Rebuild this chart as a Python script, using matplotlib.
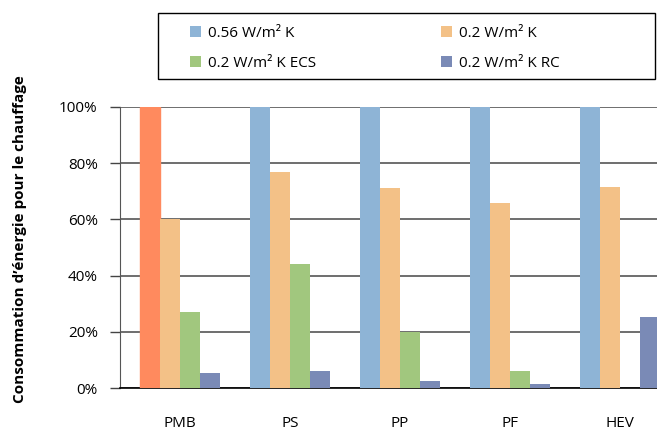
import numpy as np
import matplotlib.pyplot as plt
from matplotlib.patches import Patch, Rectangle

plt.rcParams['font.family'] = ['Open Sans', 'DejaVu Sans']

# données (en %)
categories = ['PMB', 'PS', 'PP', 'PF', 'HEV']
u056 = [100, 100, 100, 100, 100]
u02 = [60, 76.8, 71, 65.7, 71.4]
u02_ecs = [27.2, 44.3, 20, 6, 0]
u02_rc = [5.4, 6, 2.5, 1.5, 25.4]
labels = ['0.56 W/m² K', '0.2 W/m² K', '0.2 W/m² K ECS', '0.2 W/m² K RC']

c_blue = '#8EB4D6'
c_orange = '#F3C187'
c_green = '#A1C77E'
c_purple = '#7A8AB6'
c_ref = '#FF8A5E'

fig = plt.figure(figsize=(6.57, 4.30), dpi=100)
ax = fig.add_axes([120/657, 1-388/430, 1-120/657, (388-107)/430])

x = np.arange(len(categories))
w = 20/110
series = [u056, u02, u02_ecs, u02_rc]
colors = [c_blue, c_orange, c_green, c_purple]
for i, (vals, col) in enumerate(zip(series, colors)):
    bars = ax.bar(x + (i - 1.5)*w, vals, width=w, color=col, zorder=3)
    if i == 0:
        bars[0].set_color(c_ref)

ax.set_ylim(0, 100)
ax.set_xlim(-60/110, (657-180)/110)
ax.set_yticks(range(0, 101, 20))
ax.set_yticklabels(['%d%%' % v for v in range(0, 101, 20)], fontsize=11)
ax.set_xticks(x)
ax.set_xticklabels(categories, fontsize=11)
ax.tick_params(axis='x', length=0, pad=20)
ax.tick_params(axis='y', length=7, width=1, color='#444444', pad=9)
ax.yaxis.grid(True, color='#555555', linewidth=1.2, zorder=0)
for s in ['top', 'right']:
    ax.spines[s].set_visible(False)
ax.spines['left'].set_color('#555555')
ax.spines['bottom'].set_color('black')
ax.spines['bottom'].set_linewidth(1.2)

ax.set_ylabel('Consommation d’énergie pour le chauffage', fontsize=11,
              fontweight='bold')
ax.yaxis.set_label_coords(-0.173, 0.53)

# légende : ordre colonne par colonne pour obtenir 2 lignes
order = [0, 2, 1, 3]
handles = [Patch(facecolor=colors[i]) for i in order]
leg = fig.legend(handles, [labels[i] for i in order], ncol=2, mode='expand',
                 bbox_to_anchor=(190/657, 1-71/430, (560-190)/657, 57/430),
                 loc='lower left', fontsize=11, frameon=False,
                 handlelength=0.75, handleheight=0.75, handletextpad=0.45,
                 borderpad=0, labelspacing=1.0, borderaxespad=0)
fig.patches.append(Rectangle((158/657, 1-79/430), (655-158)/657, 66/430,
                             transform=fig.transFigure, fill=False,
                             edgecolor='black', linewidth=1))

fig.savefig('out.png', dpi=100)
